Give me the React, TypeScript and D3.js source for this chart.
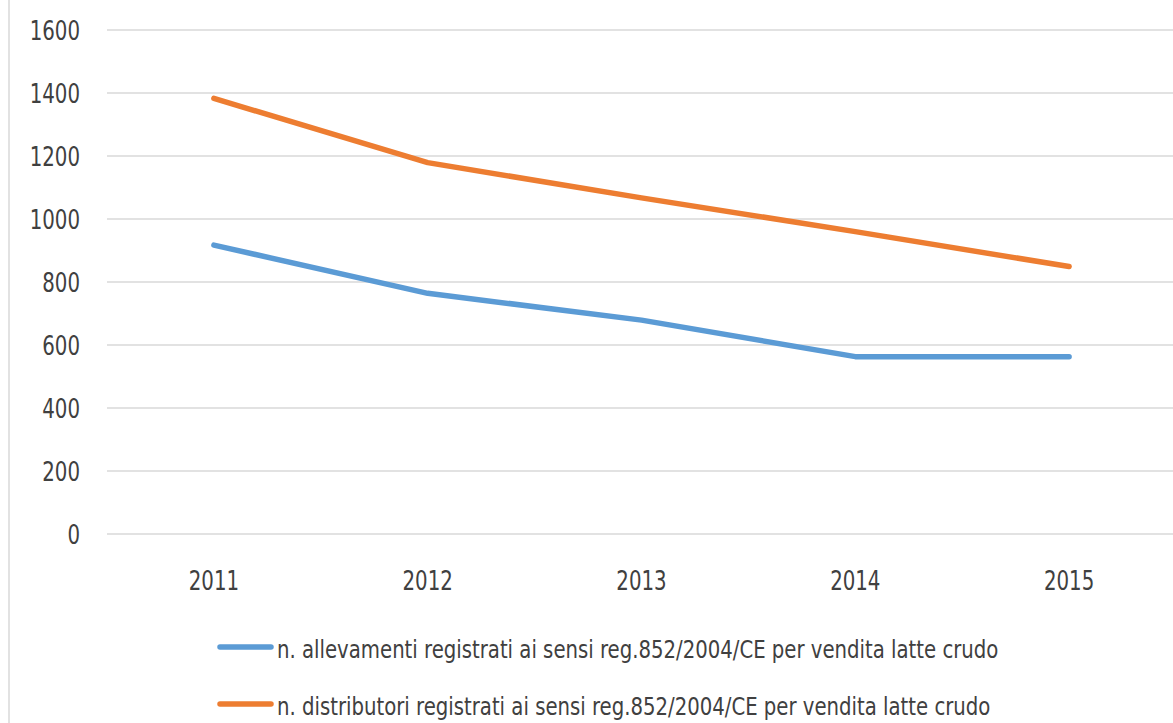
import React, { useRef, useEffect } from 'react';
import * as d3 from 'd3';

const years = ['2011', '2012', '2013', '2014', '2015'];
const allevamenti = [917, 764, 679, 563, 563];
const distributori = [1383, 1179, 1067, 960, 849];
const yTicks = [0, 200, 400, 600, 800, 1000, 1200, 1400, 1600];

const seriesNames = [
  'n. allevamenti registrati ai sensi reg.852/2004/CE per vendita latte crudo',
  'n. distributori registrati ai sensi reg.852/2004/CE per vendita latte crudo',
];
const colors = ['#5B9BD5', '#ED7D31'];

const width = 1173;
const height = 723;
const margin = { top: 30, right: -3, bottom: 189, left: 107 };
const font = '"Liberation Sans Narrow", "DejaVu Sans Condensed", "Open Sans", sans-serif';

const App = () => {
  const svgRef = useRef<SVGSVGElement>(null);

  useEffect(() => {
    document.body.style.margin = '0';
    if (!svgRef.current) return;
    const root = d3.select(svgRef.current);
    root.selectAll('*').remove();

    const innerWidth = width - margin.left - margin.right;
    const innerHeight = height - margin.top - margin.bottom;

    // chart frame (only the left edge is visible in the crop)
    root.append('line')
      .attr('x1', 9).attr('x2', 9).attr('y1', 0).attr('y2', height)
      .attr('stroke', '#d9d9d9').attr('stroke-width', 1.5);

    const svg = root.append('g')
      .attr('transform', `translate(${margin.left},${margin.top})`);

    const x = d3.scalePoint<string>()
      .domain(years)
      .range([0, innerWidth])
      .padding(0.5);

    const y = d3.scaleLinear()
      .domain([0, 1600])
      .range([innerHeight, 0]);

    // grid lines
    svg.append('g')
      .selectAll('line')
      .data(yTicks)
      .enter()
      .append('line')
      .attr('x1', 0)
      .attr('x2', innerWidth)
      .attr('y1', d => y(d))
      .attr('y2', d => y(d))
      .attr('stroke', '#d9d9d9')
      .attr('stroke-width', 1.5);

    // y labels (stretched vertically to mimic the narrow Calibri look)
    svg.append('g')
      .selectAll('text')
      .data(yTicks)
      .enter()
      .append('text')
      .attr('transform', d => `translate(-27,${y(d)}) scale(1,1.2)`)
      .attr('dy', '0.36em')
      .attr('text-anchor', 'end')
      .attr('font-family', font)
      .attr('font-size', 22)
      .attr('fill', '#404040')
      .text(d => d);

    // x labels
    svg.append('g')
      .selectAll('text')
      .data(years)
      .enter()
      .append('text')
      .attr('transform', d => `translate(${x(d)},${innerHeight + 46}) scale(1,1.2)`)
      .attr('dy', '0.36em')
      .attr('text-anchor', 'middle')
      .attr('font-family', font)
      .attr('font-size', 22)
      .attr('fill', '#404040')
      .text(d => d);

    const line = d3.line<number>()
      .x((_, i) => x(years[i]) as number)
      .y(d => y(d));

    [allevamenti, distributori].forEach((vals, i) => {
      svg.append('path')
        .datum(vals)
        .attr('d', line)
        .attr('fill', 'none')
        .attr('stroke', colors[i])
        .attr('stroke-width', 5.5)
        .attr('stroke-linecap', 'round')
        .attr('stroke-linejoin', 'round');
    });

    // legend
    const legend = root.append('g');
    seriesNames.forEach((name, i) => {
      const ly = 647 + i * 57;
      legend.append('line')
        .attr('x1', 220).attr('x2', 271)
        .attr('y1', ly).attr('y2', ly)
        .attr('stroke', colors[i])
        .attr('stroke-width', 5.5)
        .attr('stroke-linecap', 'round');
      legend.append('text')
        .attr('transform', `translate(277,${ly + 2}) scale(1,1.16)`)
        .attr('dy', '0.36em')
        .attr('font-family', font)
        .attr('font-size', 21.9)
        .attr('fill', '#404040')
        .text(name);
    });
  }, []);

  return <svg ref={svgRef} width={width} height={height} style={{ display: 'block', background: '#fff' }} />;
};

export default App;
